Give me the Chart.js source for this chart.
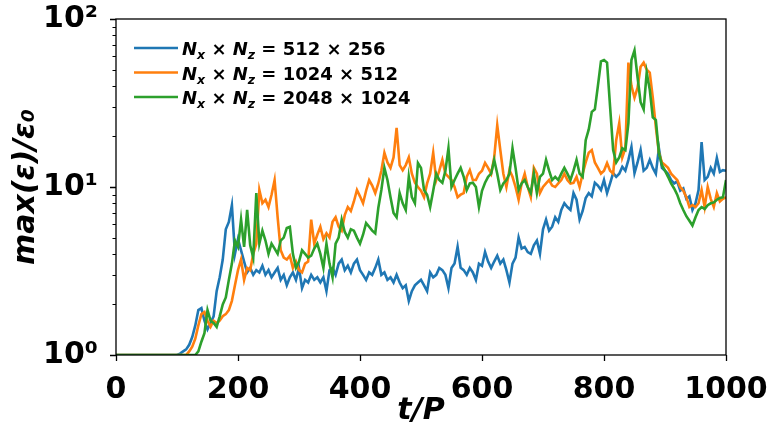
<!DOCTYPE html>
<html>
<head>
<meta charset="utf-8">
<script src="https://cdn.jsdelivr.net/npm/chart.js@4/dist/chart.umd.min.js"></script>
<style>
  html, body { margin: 0; padding: 0; background: #ffffff; }
  #wrap { width: 771px; height: 431px; }
</style>
</head>
<body>
<div id="wrap"><canvas id="c" width="771" height="431"></canvas></div>
<script>
// time axis, t/P
const tValues = [
  0,5,10,15,20,25,30,35,40,45,50,55,60,65,70,75,80,85,90,95,
  100,105,110,115,120,125,130,135,140,145,150,155,160,165,170,175,180,185,190,195,
  200,205,210,215,220,225,230,235,240,245,250,255,260,265,270,275,280,285,290,295,
  300,305,310,315,320,325,330,335,340,345,350,355,360,365,370,375,380,385,390,395,
  400,405,410,415,420,425,430,435,440,445,450,455,460,465,470,475,480,485,490,495,
  500,505,510,515,520,525,530,535,540,545,550,555,560,565,570,575,580,585,590,595,
  600,605,610,615,620,625,630,635,640,645,650,655,660,665,670,675,680,685,690,695,
  700,705,710,715,720,725,730,735,740,745,750,755,760,765,770,775,780,785,790,795,
  800,805,810,815,820,825,830,835,840,845,850,855,860,865,870,875,880,885,890,895,
  900,905,910,915,920,925,930,935,940,945,950,955,960,965,970,975,980,985,990,995,
  1000
];

// max(eps)/eps0, Nx x Nz = 512 x 256
const maxEps512 = [
  1,1,1,1,1,1,1,1,1,1,1,1,1,1,1,1,1,1,1,1,
  1.0,1.02,1.05,1.08,1.15,1.28,1.5,1.85,1.9,1.6,1.42,1.55,1.7,2.4,2.9,3.7,5.6,6.2,7.8,4.0,
  4.9,4.2,3.6,3.1,3.3,3.0,3.2,3.1,3.4,3.0,3.2,2.9,3.1,3.3,2.8,3.0,2.6,2.9,3.1,2.8,
  3.3,2.5,2.8,2.7,3.0,2.8,2.9,2.7,2.9,2.4,3.2,3.3,3.0,3.5,3.7,3.2,3.4,3.1,3.5,3.7,
  3.2,3.0,2.8,3.1,3.0,3.3,3.7,3.0,3.1,2.8,2.9,2.7,3.0,2.7,2.5,2.6,2.1,2.4,2.6,2.7,
  2.8,2.6,2.4,3.1,2.9,3.0,3.3,3.2,3.0,2.5,3.3,3.5,4.4,3.3,3.2,3.0,3.3,3.1,2.8,3.5,
  3.4,4.1,3.6,3.3,3.6,3.9,3.5,3.7,3.2,2.7,3.5,3.8,5.0,4.3,4.4,4.1,4.0,4.5,4.8,4.0,
  5.6,6.4,5.5,5.8,6.6,6.2,7.3,8.0,7.6,7.3,9.2,8.4,6.4,7.2,8.6,9.2,8.8,10.6,10.2,9.6,
  11.0,9.2,10.5,12.1,11.5,12.0,13.2,12.5,14.5,17.3,12.1,14.0,16.6,12.5,13.0,14.5,13.0,12.0,17.0,13.0,
  12.5,12.0,11.0,10.5,10.8,9.5,9.8,8.5,8.8,7.3,8.0,9.6,18.5,11.0,11.5,13.0,12.0,14.9,12.3,12.6,
  12.5
];

// max(eps)/eps0, Nx x Nz = 1024 x 512
const maxEps1024 = [
  1,1,1,1,1,1,1,1,1,1,1,1,1,1,1,1,1,1,1,1,
  1,1,1,1,1.05,1.12,1.25,1.5,1.75,1.8,1.6,1.47,1.6,1.55,1.6,1.7,1.75,1.85,2.1,2.6,
  3.2,3.7,2.8,3.3,3.2,4.0,4.6,9.6,8.0,8.4,7.6,9.0,11.0,6.6,4.2,3.8,3.7,3.9,3.3,3.6,
  3.2,3.1,3.5,3.6,6.4,4.6,5.2,5.8,4.9,5.3,5.0,6.2,6.6,5.8,5.5,6.8,7.6,7.2,8.2,9.6,
  8.8,8.0,9.5,11.0,10.2,9.2,10.5,12.5,16.0,14.0,13.0,15.0,22.5,13.5,12.6,13.5,15.0,12.0,10.6,10.0,
  9.5,8.7,10.5,12.0,16.0,11.0,12.5,14.5,12.0,11.5,11.0,10.0,8.7,9.0,9.2,11.5,12.6,11.0,11.0,12.0,
  12.5,13.9,13.0,12.0,15.0,23.3,16.6,12.0,10.0,12.6,11.5,10.0,8.4,10.5,12.0,10.0,8.7,13.0,12.0,9.2,
  10.0,10.5,11.0,10.2,10.0,10.5,11.0,12.0,11.0,10.5,10.6,11.5,10.0,12.0,14.0,16.0,16.6,14.0,13.0,12.0,
  12.5,13.9,12.5,12.0,19.0,24.0,15.0,17.0,55.0,40.0,34.0,39.0,52.0,55.0,50.0,48.0,34.0,22.7,16.0,14.0,
  13.5,13.0,12.0,11.5,11.0,10.0,9.5,8.7,7.6,7.8,7.6,8.0,9.6,7.6,10.0,8.5,7.6,9.2,8.2,8.5,
  8.7
];

// max(eps)/eps0, Nx x Nz = 2048 x 1024
const maxEps2048 = [
  1,1,1,1,1,1,1,1,1,1,1,1,1,1,1,1,1,1,1,1,
  1,1,1,1,1,1,1,1.05,1.2,1.35,1.85,1.6,1.55,1.47,1.7,2.0,2.2,2.8,3.5,4.8,
  4.4,6.4,4.4,7.3,4.5,3.8,9.2,4.6,5.5,4.8,4.0,4.6,4.3,4.0,4.8,5.0,5.7,5.8,4.0,3.3,
  3.6,4.2,4.0,3.8,3.9,4.3,4.6,4.0,3.3,4.6,3.5,2.9,4.6,5.0,6.4,5.4,5.0,5.6,5.5,5.0,
  4.6,5.2,6.1,5.8,5.5,5.3,7.5,9.6,13.0,11.0,8.7,7.0,6.6,9.2,8.0,7.3,11.5,8.7,8.0,13.9,
  13.0,9.6,9.0,7.6,9.5,12.0,11.0,10.6,12.5,17.0,10.0,11.0,12.0,13.0,11.5,9.6,10.5,10.6,10.0,7.6,
  9.5,10.6,11.5,12.0,14.5,12.0,9.6,10.5,11.0,12.0,17.0,13.0,9.6,10.5,11.0,10.0,9.2,12.0,9.2,11.5,
  12.0,14.5,12.5,11.0,11.5,11.0,12.0,13.0,12.0,11.0,12.5,14.5,12.0,11.5,19.0,22.0,28.0,29.0,40.0,56.0,
  57.0,55.0,30.0,16.6,14.0,15.0,17.0,16.6,24.0,57.0,65.0,45.0,32.0,29.0,48.0,38.0,26.0,25.0,16.0,13.5,
  12.5,11.5,10.5,9.8,9.0,8.0,7.3,6.7,6.3,5.9,6.6,7.3,7.6,7.4,7.8,8.0,8.1,8.4,8.6,8.7,
  11.0
];

// grid resolutions shown in the legend
const gridNx = [512, 1024, 2048];
const gridNz = [256, 512, 1024];
const seriesColors = ['#1f77b4', '#ff7f0e', '#2ca02c'];

// axis ticks
const xTickValues = [0, 200, 400, 600, 800, 1000];
const xTickLabels = ['0', '200', '400', '600', '800', '1000'];
const yTickValues = [1, 10, 100];
const yTickLabels = ['10\u2070', '10\u00b9', '10\u00b2'];
const yMinorValues = [2,3,4,5,6,7,8,9,20,30,40,50,60,70,80,90];

const seriesValues = [maxEps512, maxEps1024, maxEps2048];
const toPoints = arr => arr.map((v, i) => ({ x: tValues[i], y: v }));

const FONT = '"DejaVu Sans", sans-serif';

// frame, tick marks and the legend with subscripted labels
const decorations = {
  id: 'decorations',
  afterDatasetsDraw(chart) {
    const { ctx, chartArea: a, scales } = chart;
    const xs = scales.x, ys = scales.y;
    ctx.save();
    ctx.strokeStyle = '#000';
    ctx.lineWidth = 1.3;
    ctx.strokeRect(a.left, a.top, a.right - a.left, a.bottom - a.top);

    // major ticks
    ctx.lineWidth = 1.3;
    ctx.beginPath();
    xTickValues.forEach(v => {
      const px = Math.round(xs.getPixelForValue(v)) + 0.5;
      ctx.moveTo(px, a.bottom);
      ctx.lineTo(px, a.bottom + 6);
    });
    yTickValues.forEach(v => {
      const py = Math.round(ys.getPixelForValue(v)) + 0.5;
      ctx.moveTo(a.left, py);
      ctx.lineTo(a.left - 6, py);
    });
    ctx.stroke();
    // minor ticks on the log axis
    ctx.lineWidth = 1;
    ctx.beginPath();
    yMinorValues.forEach(v => {
      const py = Math.round(ys.getPixelForValue(v)) + 0.5;
      ctx.moveTo(a.left, py);
      ctx.lineTo(a.left - 3.5, py);
    });
    ctx.stroke();

    // legend
    const x0 = a.left + 18, x1 = a.left + 62, tx = a.left + 66;
    const rowY = [a.top + 29, a.top + 53.5, a.top + 78];
    const big = 18, small = 12.5;
    rowY.forEach((y, i) => {
      ctx.strokeStyle = seriesColors[i];
      ctx.lineWidth = 2.5;
      ctx.beginPath();
      ctx.moveTo(x0, y);
      ctx.lineTo(x1, y);
      ctx.stroke();

      ctx.fillStyle = '#000';
      ctx.textBaseline = 'alphabetic';
      ctx.textAlign = 'left';
      const base = y + 7;
      let x = tx;
      const put = (txt, font, dy) => {
        ctx.font = font;
        ctx.fillText(txt, x, base + dy);
        x += ctx.measureText(txt).width;
      };
      put('N', `italic bold ${big}px ${FONT}`, 0);
      put('x', `italic bold ${small}px ${FONT}`, 4);
      put(' \u00d7 ', `bold ${big}px ${FONT}`, 0);
      put('N', `italic bold ${big}px ${FONT}`, 0);
      put('z', `italic bold ${small}px ${FONT}`, 4);
      put(` = ${gridNx[i]} \u00d7 ${gridNz[i]}`, `bold ${big}px ${FONT}`, 0);
    });
    ctx.restore();
  }
};

new Chart(document.getElementById('c'), {
  type: 'line',
  data: {
    datasets: seriesValues.map((vals, i) => ({
      label: `${gridNx[i]} x ${gridNz[i]}`,
      data: toPoints(vals),
      borderColor: seriesColors[i],
      backgroundColor: seriesColors[i],
      borderWidth: 2.6,
      pointRadius: 0,
      tension: 0,
      fill: false,
      order: 2 - i
    }))
  },
  options: {
    responsive: false,
    animation: false,
    events: [],
    layout: { padding: { left: 0, right: 45, top: 19, bottom: 0 } },
    plugins: {
      legend: { display: false },
      tooltip: { enabled: false }
    },
    scales: {
      x: {
        type: 'linear',
        min: 0,
        max: 1000,
        afterBuildTicks: s => { s.ticks = xTickValues.map(v => ({ value: v })); },
        afterFit: s => { s.height = 76; s.paddingLeft = 0; s.paddingRight = 0; },
        grid: { display: false },
        border: { display: false },
        ticks: {
          color: '#000',
          padding: 9,
          maxRotation: 0,
          font: { family: FONT, size: 30, weight: 'bold' },
          callback: v => {
            const k = xTickValues.indexOf(v);
            return k >= 0 ? xTickLabels[k] : '';
          }
        },
        title: {
          display: true,
          text: 't/P',
          color: '#000',
          padding: { top: 0, bottom: 2 },
          font: { family: FONT, size: 30, weight: 'bold', style: 'italic' }
        }
      },
      y: {
        type: 'logarithmic',
        min: 1,
        max: 100,
        afterBuildTicks: s => { s.ticks = yTickValues.map(v => ({ value: v, major: true })); },
        afterFit: s => { s.width = 116; s.paddingTop = 0; s.paddingBottom = 0; },
        grid: { display: false },
        border: { display: false },
        ticks: {
          color: '#000',
          padding: 10,
          font: { family: FONT, size: 30, weight: 'bold' },
          callback: v => {
            const k = yTickValues.indexOf(v);
            return k >= 0 ? yTickLabels[k] : '';
          }
        },
        title: {
          display: true,
          text: 'max(\u03b5)/\u03b5\u2080',
          color: '#000',
          padding: { top: 8, bottom: 0 },
          font: { family: FONT, size: 30, weight: 'bold', style: 'italic' }
        }
      }
    }
  },
  plugins: [decorations]
});
</script>
</body>
</html>
